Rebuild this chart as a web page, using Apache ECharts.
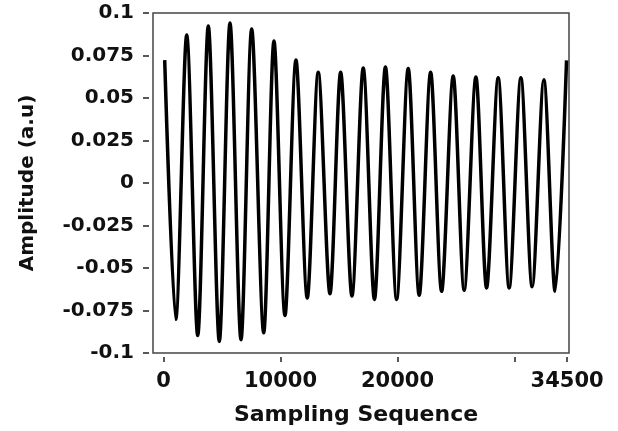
<!DOCTYPE html>
<html>
<head>
<meta charset="utf-8">
<script src="https://cdn.jsdelivr.net/npm/echarts@6/dist/echarts.min.js"></script>
<style>
  html, body { margin: 0; padding: 0; background: #fff; }
  #chart { width: 618px; height: 431px; }
</style>
</head>
<body>
<div id="chart"></div>
<script>
// extrema of the waveform (sample index, amplitude)
const sampleIdx = [
  100, 1042, 1982, 2922, 3828, 4768, 5682, 6622, 7536, 8561,
  9441, 10381, 11321, 12286, 13226, 14226, 15140, 16106, 17071, 18028,
  18968, 19925, 20916, 21856, 22830, 23770, 24761, 25700, 26700, 27614,
  28606, 29545, 30545, 31510, 32510, 33475, 34450
]
const amplitude = [
  0.0723, -0.0802, 0.0870, -0.0897, 0.0923, -0.0932, 0.0941, -0.0922, 0.0906, -0.0881,
  0.0835, -0.0779, 0.0723, -0.0676, 0.0652, -0.0651, 0.0652, -0.0665, 0.0676, -0.0685,
  0.0683, -0.0685, 0.0674, -0.0661, 0.0652, -0.0637, 0.0629, -0.0631, 0.0624, -0.0617,
  0.0619, -0.0617, 0.0619, -0.0611, 0.0607, -0.0637, 0.0721
]
const xTicks = [0, 10000, 20000, 30000, 34500]
const xLabels = [0, 10000, 20000, 34500]

const chart = echarts.init(document.getElementById('chart'))
const font = 'DejaVu Sans'

chart.setOption({
  animation: false,
  grid: {
    left: 153, right: 49, top: 13, bottom: 78,
    show: true, borderColor: '#444', borderWidth: 1.5
  },
  xAxis: {
    type: 'value',
    min: -900,
    max: 34660,
    offset: 4,
    name: 'Sampling Sequence',
    nameLocation: 'middle',
    nameGap: 47,
    nameTextStyle: { fontFamily: font, fontWeight: 'bold', fontSize: 22, color: '#111', padding: [0, 10, 0, 0] },
    axisLine: { show: false, onZero: false },
    axisTick: { show: true, length: 5, customValues: xTicks, lineStyle: { color: '#222', width: 1.5 } },
    axisLabel: {
      customValues: xLabels, margin: 14, fontFamily: font, fontWeight: 'bold', fontSize: 21, color: '#111',
      formatter: v => String(v)
    },
    splitLine: { show: false }
  },
  yAxis: {
    type: 'value',
    min: -0.1,
    max: 0.1,
    interval: 0.025,
    offset: 4,
    name: 'Amplitude (a.u)',
    nameLocation: 'middle',
    nameGap: 111,
    nameTextStyle: { fontFamily: font, fontWeight: 'bold', fontSize: 20, color: '#111' },
    axisLine: { show: false, onZero: false },
    axisTick: { show: true, length: 6, lineStyle: { color: '#222', width: 1.5 } },
    axisLabel: {
      margin: 15, fontFamily: font, fontWeight: 'bold', fontSize: 20, color: '#111',
      formatter: v => String(+v.toFixed(3))
    },
    splitLine: { show: false }
  },
  series: [{
    type: 'line',
    data: sampleIdx.map((x, i) => [x, amplitude[i]]),
    smooth: 0.3,
    showSymbol: false,
    lineStyle: { color: '#000', width: 3.5 }
  }]
})
</script>
</body>
</html>
